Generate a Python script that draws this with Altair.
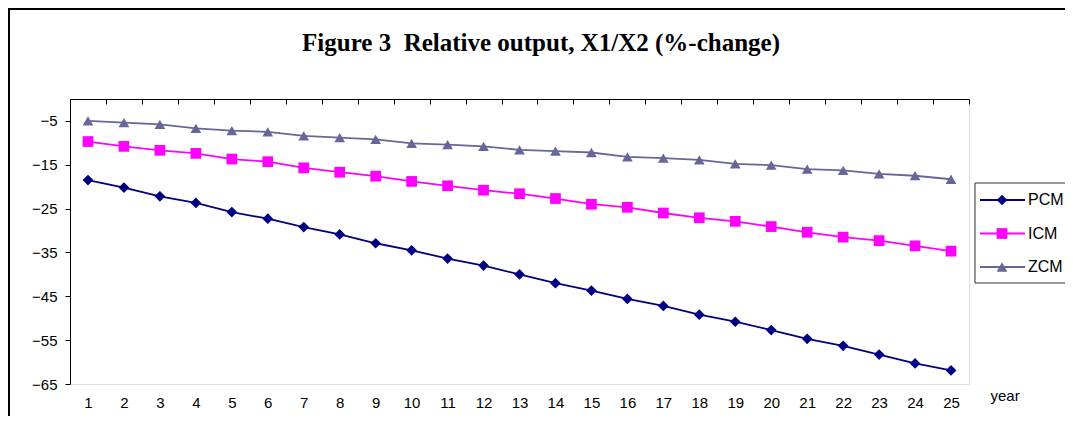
import altair as alt
import pandas as pd

years = list(range(1, 26))
series_names = ["PCM", "ICM", "ZCM"]
pcm = [-18.5, -20.2, -22.2, -23.7, -25.8, -27.3, -29.2, -30.9, -32.9, -34.5,
       -36.4, -38.0, -40.0, -42.0, -43.7, -45.6, -47.2, -49.2, -50.8, -52.7,
       -54.7, -56.3, -58.3, -60.3, -61.9]
icm = [-9.7, -10.8, -11.7, -12.4, -13.7, -14.3, -15.7, -16.7, -17.6, -18.8,
       -19.8, -20.8, -21.6, -22.7, -24.0, -24.7, -26.0, -27.1, -27.9, -29.1,
       -30.4, -31.5, -32.3, -33.5, -34.7]
zcm = [-5.0, -5.4, -5.8, -6.7, -7.2, -7.5, -8.4, -8.8, -9.2, -10.1,
       -10.4, -10.8, -11.6, -11.9, -12.2, -13.2, -13.5, -13.9, -14.8, -15.1,
       -16.0, -16.3, -17.1, -17.5, -18.3]
y_ticks = [-65, -55, -45, -35, -25, -15, -5]
x_edges = [y + 0.5 for y in range(0, 26)]
title_text = "Figure 3 \u00a0Relative output, X1/X2 (%-change)"

colors = ["#000080", "#FF00FF", "#666699"]
shapes = ["diamond", "square", "triangle-up"]

rows = []
for name, vals in zip(series_names, [pcm, icm, zcm]):
    for yr, v in zip(years, vals):
        rows.append({"year": yr, "value": v, "series": name})
df = pd.DataFrame(rows)
legend_df = pd.DataFrame({"series": series_names})

W, H = 899, 285
FONT = "Liberation Sans"

xscale = alt.Scale(domain=[0.5, 25.5], nice=False, zero=False)
yscale = alt.Scale(domain=[-65, 0], nice=False, zero=False)
cscale = alt.Scale(domain=series_names, range=colors)
sscale = alt.Scale(domain=series_names, range=shapes)

lines = alt.Chart(df).mark_line(strokeWidth=1.8).encode(
    x=alt.X("year:Q", scale=xscale,
            axis=alt.Axis(orient="bottom", values=years, domain=False, ticks=False,
                          tickSize=0, labelPadding=11, labelFont=FONT, labelFontSize=15,
                          labelColor="black", grid=False, title="year",
                          titleX=920, titleY=16, titleAlign="left",
                          titleBaseline="alphabetic", titleFont=FONT,
                          titleFontSize=15, titleFontWeight="normal",
                          titleColor="black", titleAngle=0)),
    y=alt.Y("value:Q", scale=yscale,
            axis=alt.Axis(values=y_ticks, grid=False, domainColor="black",
                          tickColor="black", tickSize=5, labelPadding=8,
                          labelFont=FONT, labelFontSize=15, labelColor="black",
                          title=None)),
    color=alt.Color("series:N", scale=cscale, legend=None),
    detail="series:N",
)

points = alt.Chart(df).mark_point(filled=True, size=115, opacity=1).encode(
    x=alt.X("year:Q", scale=xscale,
            axis=alt.Axis(orient="bottom", offset=-H, values=x_edges, labels=False,
                          domain=True, domainColor="black", ticks=True,
                          tickColor="black", tickSize=5, grid=False, title=None)),
    y=alt.Y("value:Q", scale=yscale, axis=None),
    color=alt.Color("series:N", scale=cscale, legend=None),
    shape=alt.Shape("series:N", scale=sscale, legend=None),
)

leg_y = alt.Y("series:N",
              scale=alt.Scale(type="point", domain=series_names, range=[101, 168],
                              padding=0),
              axis=None)

leg_box = alt.Chart(pd.DataFrame({"a": [0]})).mark_rect(
    fill="white", stroke="#333333", strokeWidth=1
).encode(x=alt.value(905), x2=alt.value(1030), y=alt.value(84), y2=alt.value(184))

leg_lines = alt.Chart(legend_df).mark_rule(strokeWidth=1.8).encode(
    x=alt.value(910), x2=alt.value(955), y=leg_y,
    color=alt.Color("series:N", scale=cscale, legend=None),
)
leg_pts = alt.Chart(legend_df).mark_point(filled=True, size=115, opacity=1).encode(
    x=alt.value(932), y=leg_y,
    color=alt.Color("series:N", scale=cscale, legend=None),
    shape=alt.Shape("series:N", scale=sscale, legend=None),
)
leg_text = alt.Chart(legend_df).mark_text(
    align="left", baseline="middle", font=FONT, fontSize=16, color="black"
).encode(x=alt.value(958), y=leg_y, text="series:N")

title = alt.Chart(pd.DataFrame({"t": [title_text]})).mark_text(
    align="center", baseline="alphabetic", font="Liberation Serif", fontSize=25,
    fontWeight="bold", color="black"
).encode(x=alt.value(471), y=alt.value(-48), text="t:N")

frame_top = alt.Chart(pd.DataFrame({"a": [0]})).mark_rule(
    color="black", strokeWidth=2
).encode(x=alt.value(-62), x2=alt.value(W + 96), y=alt.value(-90))
frame_left = alt.Chart(pd.DataFrame({"a": [0]})).mark_rule(
    color="black", strokeWidth=2
).encode(x=alt.value(-61), y=alt.value(-91), y2=alt.value(H + 32))

chart = alt.layer(
    frame_top, frame_left, title, lines, points, leg_box, leg_lines, leg_pts, leg_text
).resolve_scale(y="independent").resolve_axis(x="independent").properties(
    width=W, height=H,
    autosize=alt.AutoSizeParams(type="none"),
    padding={"left": 62, "top": 91, "right": 96, "bottom": 32},
).configure_view(stroke=None).configure(background="white")

chart.save("out.html", embed_options={"renderer": "svg", "actions": False})
